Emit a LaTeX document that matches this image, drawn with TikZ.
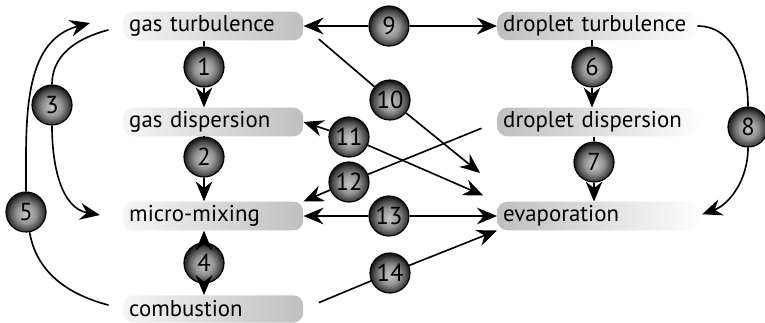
\documentclass[tikz,border=0pt]{standalone}
\usepackage{fontspec}
\setmainfont{PT Sans}
\usetikzlibrary{arrows.meta}

\pgfdeclareradialshading{ballshade}{\pgfpoint{0bp}{-3bp}}{color(0bp)=(black!22); color(12bp)=(black!42); color(21bp)=(black!72); color(25bp)=(black!90); color(50bp)=(black!90)}

\tikzset{
  lbox/.style={anchor=west, minimum width=5.4cm, minimum height=0.82cm, text width=5.04cm, inner xsep=0.18cm, align=left, rounded corners=0.3cm, left color=gray!8, right color=gray!50, font=\fontsize{19.5}{22}\selectfont},
  rbox/.style={lbox, minimum width=6cm, text width=5.64cm, left color=gray!50, right color=gray!2},
  ball/.style={circle, draw=black, line width=1pt, minimum size=1.2cm, inner sep=0pt, shading=ballshade, font=\fontsize{21}{22}\selectfont},
  link/.style={line width=1.4pt},
  arr/.style={link, -{Stealth[length=0.6cm, width=0.5cm, inset=0.2cm]}}
}

\begin{document}
\begin{tikzpicture}[x=0.03cm, y=0.03cm]
      \useasboundingbox (0,0) rectangle (765,322);
      % boxes
      \node[lbox] (gasturb) at (123,296) {gas turbulence};
      \node[lbox] (gasdisp) at (123,200) {gas dispersion};
      \node[lbox] (micmix) at (123,106) {micro-mixing};
      \node[lbox] (comb) at (123,13) {combustion};
      \node[rbox] (dropturb) at (497,296) {droplet turbulence};
      \node[rbox] (dropdisp) at (497,200) {droplet dispersion};
      \node[rbox] (evap) at (497,106) {evaporation};
      % numbered balls
      \foreach \n/\x/\y in {1/204/255, 2/204/165, 3/52/217, 4/204/59, 5/26/110, 6/592/255, 7/594/160, 8/748/195, 9/389/296, 10/390/222, 11/349/185, 12/349/140, 13/389/106, 14/390/49}
         \node[ball] (b\n) at (\x,\y) {\n};
      % free arrow ends
      \coordinate (t3) at (100,107);
      \coordinate (t5) at (90,299);
      \coordinate (t10) at (480,149);
      % gas side
      \draw[link] (gasturb.south -| b1) -- (b1);
      \draw[arr] (b1) -- (gasdisp.north -| b1);
      \draw[link] (gasdisp.south -| b2) -- (b2);
      \draw[arr] (b2) -- (micmix.north -| b2);
      \draw[arr] (b4) -- (micmix.south -| b4);
      \draw[arr] (b4) -- (comb.north -| b4);
      \draw[link, shorten <=0.45cm] (gasturb.west) to[out=195, in=90] (b3);
      \draw[arr] (b3) to[out=-90, in=170] (t3);
      \draw[link, shorten <=0.45cm] (comb.west) to[out=165, in=-80] (b5);
      \draw[arr] (b5) to[out=90, in=195] (t5);
      % droplet side
      \draw[link] (dropturb.south -| b6) -- (b6);
      \draw[arr] (b6) -- (dropdisp.north -| b6);
      \draw[link] (dropdisp.south -| b7) -- (b7);
      \draw[arr] (b7) -- (evap.north -| b7);
      \draw[link] (dropturb.east) to[out=0, in=90] (b8);
      \draw[arr, shorten >=0.15cm] (b8) to[out=-90, in=20] (evap.east);
      % cross links
      \draw[arr] (b9) -- (gasturb.east);
      \draw[arr] (b9) -- (dropturb.west);
      \draw[link, shorten <=0.6cm] (gasturb.east) -- (b10);
      \draw[arr] (b10) -- (t10);
      \draw[arr] (b11) -- (gasdisp.east);
      \draw[arr, shorten >=0.45cm] (b11) -- (evap.north west);
      \draw[link, shorten <=0.5cm] (dropdisp.west) -- (b12);
      \draw[arr] (b12) -- (micmix.north east);
      \draw[arr] (b13) -- (micmix.east);
      \draw[arr] (b13) -- (evap.west);
      \draw[link, shorten <=0.5cm] (comb.east) -- (b14);
      \draw[arr] (b14) -- (evap.south west);
   \end{tikzpicture}
\end{document}
